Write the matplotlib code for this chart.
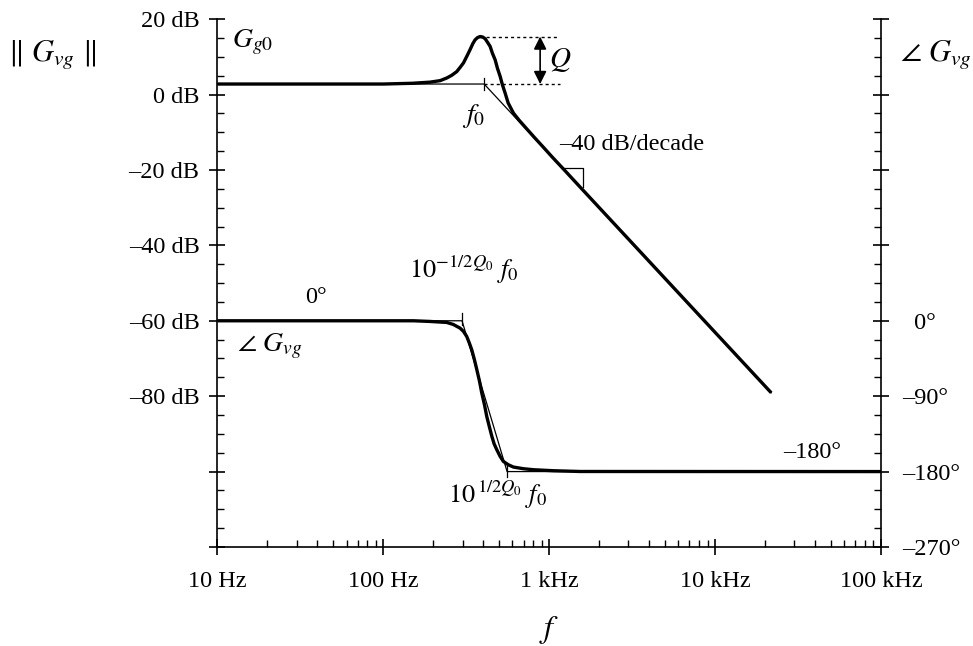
import matplotlib
matplotlib.use("Agg")
import matplotlib.pyplot as plt
from matplotlib.ticker import FixedLocator, NullFormatter

plt.rcParams["font.family"] = ["Liberation Serif", "DejaVu Serif"]
plt.rcParams["mathtext.fontset"] = "stix"

# ---- data -------------------------------------------------------------
# magnitude of G_vg (frequency in Hz, gain in dB)
mag_freq = [10, 100, 150, 191, 220, 241, 258, 277, 290, 304, 318, 333, 346,
            357, 369, 383, 398, 411, 424, 440, 454, 472, 487, 506, 522, 542,
            565, 608, 658, 732, 811, 923, 1041, 1218, 1536, 21780]
mag_db = [2.8, 2.8, 3.0, 3.3, 3.7, 4.4, 5.1, 6.1, 7.2, 8.4, 10.1, 11.9, 13.5,
          14.5, 15.1, 15.4, 15.25, 14.8, 13.9, 12.8, 11.0, 9.2, 7.0, 4.8, 2.6,
          0.4, -2.2, -4.9, -6.8, -9.1, -11.3, -14.0, -16.55, -19.75, -24.55,
          -79.1]

# phase of G_vg (frequency in Hz, degrees)
ph_freq = [10, 152, 191, 241, 264, 290, 304, 318, 330, 341, 354, 366, 380,
           392, 407, 420, 436, 451, 465, 483, 506, 529, 567, 608, 699, 803,
           1059, 1536, 100000]
ph_deg = [0, 0, -0.8, -2.0, -4.4, -8.8, -12.7, -18.7, -26.7, -34.6, -46.5,
          -58.5, -72.4, -86.3, -100.3, -114.2, -126.9, -138.1, -146.8,
          -154.0, -162.0, -167.9, -171.9, -174.6, -176.6, -177.8, -179.0,
          -179.9, -180]

# asymptotes
f0 = 405
Gg0 = 2.8
peak_freq, peak_db = 383, 15.4
mag_asym_freq = [10, f0, 21780]
mag_asym_db = [Gg0, Gg0, -79.1]
ph_break_lo, ph_break_hi = 298, 557
ph_asym_freq = [10, ph_break_lo, ph_break_hi, 100000]
ph_asym_deg = [0, 0, -180, -180]

# axis ticks
x_ticks = [10, 100, 1000, 10000, 100000]
x_labels = ["10 Hz", "100 Hz", "1 kHz", "10 kHz", "100 kHz"]
db_ticks = [20, 0, -20, -40, -60, -80, -100, -120]
db_labels = ["20 dB", "0 dB", "\u201320 dB", "\u201340 dB", "\u201360 dB",
             "\u201380 dB", "", ""]
deg_ticks = [360, 270, 180, 90, 0, -90, -180, -270]
deg_labels = ["", "", "", "", "\u20020\u00b0", "\u201390\u00b0",
              "\u2013180\u00b0", "\u2013270\u00b0"]

# ---- figure -------------------------------------------------------------
fig = plt.figure(figsize=(9.73, 6.46), dpi=100)
ax = fig.add_axes([0.2235, 0.1533, 0.9055 - 0.2235, 0.9703 - 0.1533])
ax2 = ax.twinx()

FS = 17.5
thick = 2.4
thin = 0.9

ax.set_xscale("log")
ax.set_xlim(10, 100000)
ax.set_ylim(-120, 20)
ax2.set_ylim(-270, 360)

for a in (ax, ax2):
    a.spines["top"].set_visible(False)
    for s in a.spines.values():
        s.set_linewidth(1.2)
ax.spines["right"].set_visible(False)
ax2.spines["left"].set_visible(False)
ax2.spines["bottom"].set_visible(False)

ax.xaxis.set_major_locator(FixedLocator(x_ticks))
ax.set_xticklabels(x_labels)
ax.xaxis.set_minor_formatter(NullFormatter())
ax.yaxis.set_major_locator(FixedLocator(db_ticks))
ax.set_yticklabels(db_labels)
ax.yaxis.set_minor_locator(FixedLocator(range(-120, 21, 5)))
ax2.yaxis.set_major_locator(FixedLocator(deg_ticks))
ax2.set_yticklabels(deg_labels)
ax2.yaxis.set_minor_locator(FixedLocator([-270 + 22.5 * i for i in range(29)]))

ax.tick_params(axis="x", which="major", direction="inout", length=12,
               width=1.2, labelsize=FS, pad=11)
ax.tick_params(axis="x", which="minor", direction="in", length=5, width=1.0)
ax.tick_params(axis="y", which="major", direction="inout", length=12,
               width=1.2, labelsize=FS, pad=7)
ax.tick_params(axis="y", which="minor", direction="in", length=5, width=1.0)
ax2.tick_params(axis="y", which="major", direction="inout", length=12,
                width=1.2, labelsize=FS, pad=9)
ax2.tick_params(axis="y", which="minor", direction="in", length=5, width=1.0)

# asymptotes
ax.plot(mag_asym_freq, mag_asym_db, color="black", lw=thin)
ax2.plot(ph_asym_freq, ph_asym_deg, color="black", lw=thin)

# response curves
ax.plot(mag_freq, mag_db, color="black", lw=thick, solid_joinstyle="round",
        solid_capstyle="butt")
ax2.plot(ph_freq, ph_deg, color="black", lw=thick, solid_joinstyle="round",
         solid_capstyle="butt")

# small marks at the corner frequencies
ax.plot([f0, f0], [Gg0 - 1.6, Gg0 + 1.6], color="black", lw=thin)
ax2.plot([ph_break_lo, ph_break_lo], [-5, 9], color="black", lw=thin)
ax2.plot([ph_break_hi, ph_break_hi], [-172, -186], color="black", lw=thin)

# Q indication
ax.plot([peak_freq, 1117], [peak_db, peak_db], color="black", lw=1.0,
        ls=(0, (2.2, 2.2)))
ax.plot([f0, 1164], [Gg0, Gg0], color="black", lw=1.0, ls=(0, (2.2, 2.2)))
ax.annotate("", xy=(881, Gg0), xytext=(881, peak_db),
            arrowprops=dict(arrowstyle="<|-|>", color="black", lw=1.2,
                            mutation_scale=19, shrinkA=0, shrinkB=0))
ax.text(1170, 9.2, r"$Q$", fontsize=21, ha="center", va="center")

# slope marker
ax.plot([1191, 1595, 1595], [-19.5, -19.5, -24.6], color="black", lw=thin)
ax.text(1150, -13.2, "\u201340 dB/decade", fontsize=FS, ha="left",
        va="center")

# curve annotations
ax.text(16.3, 14.0, r"$G_{g0}$", fontsize=20, ha="center", va="center")
ax.text(352, -5.6, r"$f_0$", fontsize=20, ha="center", va="center")
ax2.text(39.3, 27.5, "0\u00b0", fontsize=FS, ha="center", va="center")
ax2.text(20.7, -31, r"$\angle\ G_{vg}$", fontsize=20, ha="center",
         va="center")
ax2.text(305, 61, r"$10^{-1/2Q_0}\ f_0$", fontsize=19, ha="center",
         va="center")
ax2.text(485, -208, r"$10^{\,1/2Q_0}\ f_0$", fontsize=19, ha="center",
         va="center")
ax2.text(38500, -157.6, "\u2013180\u00b0", fontsize=FS, ha="center",
         va="center")

# axis titles
fig.text(52 / 973, 1 - 55 / 646, r"$\Vert\ G_{vg}\ \Vert$", fontsize=22,
         ha="center", va="center")
fig.text(936 / 973, 1 - 55 / 646, r"$\angle\ G_{vg}$", fontsize=22,
         ha="center", va="center")
fig.text(549 / 973, 1 - 630 / 646, r"$f$", fontsize=23, ha="center",
         va="center")

fig.savefig("out.png", dpi=100)
